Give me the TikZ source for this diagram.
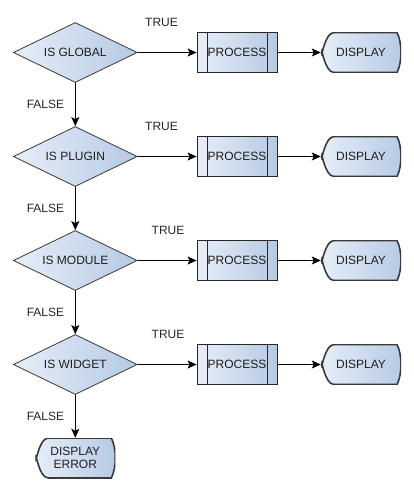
\documentclass[tikz,border=0pt]{standalone}
\usepackage{fontspec}
\setmainfont{Liberation Sans}
\usetikzlibrary{shapes.geometric,arrows.meta}
\definecolor{fillL}{HTML}{E6EEF8}
\definecolor{fillR}{HTML}{B6CAE4}
\definecolor{edge}{HTML}{3A3A3A}
\definecolor{txt}{HTML}{1E1E1E}
\tikzset{
  base/.style={font=\fontsize{12}{13.5}\selectfont, text=txt, inner sep=0pt},
  decision/.style={base, diamond, aspect=2, minimum width=124pt, minimum height=60pt,
    draw=edge, line width=0.8pt, left color=fillL, right color=fillR},
  procbox/.style={base, rectangle, minimum width=80pt, minimum height=40pt,
    draw=black!85, line width=0.8pt, left color=fillL, right color=fillR,
    path picture={
      \draw[black!85, line width=1pt]
        ([xshift=10pt]path picture bounding box.north west) -- ([xshift=10pt]path picture bounding box.south west)
        ([xshift=-10pt]path picture bounding box.north east) -- ([xshift=-10pt]path picture bounding box.south east);
    }},
  dispbox/.style={base, rectangle, minimum width=80pt, minimum height=40pt, align=center,
    path picture={
      \path (path picture bounding box.north west) coordinate (dpNW)
            (path picture bounding box.south east) coordinate (dpSE)
            (path picture bounding box.west) coordinate (dpW);
      \shade[left color=fillL, right color=fillR, draw=edge, line width=1.6pt]
        ([xshift=13pt]dpNW) -- ([xshift=-4pt]dpNW -| dpSE)
        .. controls ([xshift=1.3pt,yshift=-10pt]dpNW -| dpSE) and ([xshift=1.3pt,yshift=10pt]dpSE) .. ([xshift=-4pt]dpSE)
        -- ([xshift=13pt]dpSE -| dpNW)
        .. controls ([xshift=3pt]dpSE -| dpNW) and ([xshift=0.3pt,yshift=10pt]dpW) .. (dpW)
        .. controls ([xshift=0.3pt,yshift=-10pt]dpW) and ([xshift=3pt]dpNW) .. ([xshift=13pt]dpNW) -- cycle;
    }},
  lbl/.style={base, text=black!85},
  arr/.style={-{Stealth[length=9pt,width=8pt,inset=2pt]}, line width=1pt, draw=black}
}
\begin{document}
\begin{tikzpicture}[x=1pt,y=-1pt]
\useasboundingbox (0,0) rectangle (413,486);
% row 1
\node[decision] (g) at (75.3,52.5) {IS GLOBAL};
\node[procbox] (p1) at (237,52.5) {PROCESS};
\node[dispbox] (d1) at (361,52.5) {DISPLAY};
% row 2
\node[decision] (p) at (75.3,156.5) {IS PLUGIN};
\node[procbox] (p2) at (237,156.5) {PROCESS};
\node[dispbox] (d2) at (361,156.5) {DISPLAY};
% row 3
\node[decision] (m) at (75.3,260.5) {IS MODULE};
\node[procbox] (p3) at (237,260.5) {PROCESS};
\node[dispbox] (d3) at (361,260.5) {DISPLAY};
% row 4
\node[decision] (w) at (75.3,364.5) {IS WIDGET};
\node[procbox] (p4) at (237,364.5) {PROCESS};
\node[dispbox] (d4) at (361,364.5) {DISPLAY};
% error
\node[dispbox] (err) at (75.3,458) {DISPLAY\\[-1pt]ERROR};
% labels
\node[lbl] (t1) at (161.5,22.5) {TRUE};
\node[lbl] (t2) at (161.5,126.5) {TRUE};
\node[lbl] (t3) at (168,230.5) {TRUE};
\node[lbl] (t4) at (168,334.5) {TRUE};
\node[lbl] (f1) at (45.5,104) {FALSE};
\node[lbl] (f2) at (45.5,208) {FALSE};
\node[lbl] (f3) at (45.5,312) {FALSE};
\node[lbl] (f4) at (45.5,416) {FALSE};
% connectors
\foreach \a/\b/\c in {g/p1/d1, p/p2/d2, m/p3/d3, w/p4/d4}{
  \draw[arr] (\a.east) -- (\b.west);
  \draw[arr] (\b.east) -- (\c.west);
}
\draw[arr] (g.south) -- (p.north);
\draw[arr] (p.south) -- (m.north);
\draw[arr] (m.south) -- (w.north);
\draw[arr] (w.south) -- (err.north);
\end{tikzpicture}
\end{document}
